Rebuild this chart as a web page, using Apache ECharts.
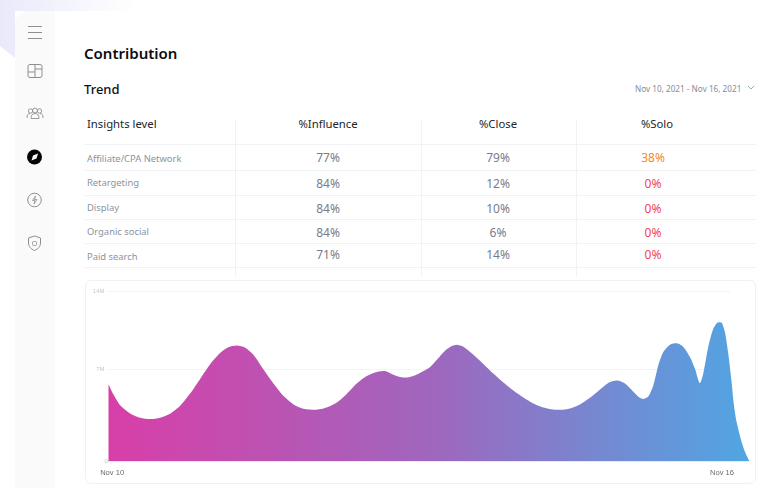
<!DOCTYPE html>
<html>
<head>
<meta charset="utf-8">
<script src="https://cdn.jsdelivr.net/npm/echarts@6/dist/echarts.min.js"></script>
<style>
html, body { margin: 0; padding: 0; width: 780px; height: 488px; overflow: hidden; background: #fff; font-family: "Noto Sans", sans-serif; }
.abs { position: absolute; white-space: nowrap; }
#bg { position: absolute; left: 0; top: 0; width: 780px; height: 488px; }
#sidebar { position: absolute; left: 15px; top: 11px; width: 40px; height: 477px; background: #fafafa; border-top-left-radius: 14px; }
#main { position: absolute; left: 55px; top: 11px; width: 725px; height: 477px; background: #fff; }
#icons { position: absolute; left: 0; top: 0; }
#title { left: 84px; top: 42px; font-size: 15px; line-height: 22px; font-weight: 600; color: #0c0c10; }
#subtitle { left: 84px; top: 79px; font-size: 13px; line-height: 20px; font-weight: 500; color: #111; }
#range { left: 635px; top: 82px; font-size: 8.2px; line-height: 13px; color: #858d9a; }
.rule { position: absolute; background: #f1f2f4; }
.head { font-size: 11.3px; line-height: 16px; color: #22252b; transform: translateX(-50%); }
.rowname { left: 87px; font-size: 9.4px; line-height: 13px; color: #8b93a0; }
.cell { font-size: 12px; line-height: 16px; color: #767d8c; transform: translateX(-50%); }
#card { position: absolute; left: 85px; top: 280px; width: 669px; height: 202px; border: 1px solid #f0f1f3; border-radius: 6px; }
#chart { position: absolute; left: 85px; top: 280px; width: 670px; height: 203px; }
</style>
</head>
<body>
<svg id="bg" width="780" height="488">
    <defs>
        <linearGradient id="lav" x1="0" y1="0" x2="1" y2="0">
            <stop offset="0" stop-color="#e9e9fb"/>
            <stop offset="1" stop-color="#ffffff"/>
        </linearGradient>
    </defs>
    <polygon points="0,0 135,0 135,11 15,11 15,58 0,46" fill="url(#lav)"/>
</svg>
<div id="sidebar"></div>
<div id="main"></div>
<svg id="icons" width="60" height="270" fill="none" stroke="#8f8f8f" stroke-width="1">
    <path d="M28 26.5h14M28 32.5h14M28 38.5h14"/>
    <rect x="28" y="64.5" width="14" height="13" rx="2"/>
    <path d="M35 64.5v13M28 72h7M35 69h7"/>
    <g stroke-width="0.9">
        <circle cx="30.5" cy="111" r="2.2"/><circle cx="35" cy="110.5" r="2.4"/><circle cx="39.5" cy="111" r="2.2"/>
        <path d="M27 118c0-3 1-4.5 3-4.5M43 118c0-3-1-4.5-3-4.5M31 118.5c0-3.5 1.500-5 4-5s4 1.500 4 5z"/>
    </g>
    <circle cx="34.500" cy="157" r="7.500" fill="#060606" stroke="none"/>
    <path d="M38 153.500l-5 2-1.500 5 5-2z" fill="#fff" stroke="none"/>
    <circle cx="34.500" cy="200" r="6.800"/>
    <path d="M35.500 196l-3 4.500h2.500l-1 3.500 3-4.500h-2.500z" stroke-width="0.8"/>
    <path d="M34.500 236l6 2v5c0 3.500-2.500 6-6 7.500-3.500-1.500-6-4-6-7.500v-5z"/>
    <rect x="32.500" y="241.500" width="4" height="4" rx="1" stroke-width="0.8"/>
</svg>
<div id="title" class="abs">Contribution</div>
<div id="subtitle" class="abs">Trend</div>
<div id="range" class="abs">Nov 10, 2021 - Nov 16, 2021</div>
<svg class="abs" style="left:747px;top:85px" width="8" height="6" fill="none" stroke="#8b93a0" stroke-width="0.8"><path d="M1 1l3 3 3-3"/></svg>
<div id="table"></div>
<div id="card"></div>
<div id="chart"></div>
<script>
var tableColumns = ['%Influence', '%Close', '%Solo'];
var tableRows = ['Affiliate/CPA Network', 'Retargeting', 'Display', 'Organic social', 'Paid search'];
var influenceValues = [77, 84, 84, 84, 71];
var closeValues = [79, 12, 10, 6, 14];
var soloValues = [38, 0, 0, 0, 0];

// days since Nov 10
var trendDays = [
    -0.036, 0.013, 0.079, 0.177, 0.275, 0.374, 0.472, 0.570, 0.669, 0.767, 0.866, 0.964,
    1.062, 1.144, 1.226, 1.308, 1.390, 1.488, 1.587, 1.685, 1.784, 1.882, 1.997, 2.111,
    2.210, 2.308, 2.406, 2.505, 2.603, 2.685, 2.751, 2.833, 2.898, 2.997, 3.128, 3.193,
    3.275, 3.341, 3.390, 3.456, 3.554, 3.652, 3.751, 3.849, 3.948, 4.046, 4.144, 4.243,
    4.341, 4.406, 4.505, 4.603, 4.701, 4.800, 4.882, 4.964, 5.046, 5.128, 5.193, 5.226,
    5.275, 5.325, 5.374, 5.423, 5.489, 5.554, 5.620, 5.685, 5.734, 5.783, 5.816, 5.865,
    5.915, 5.964, 5.997, 6.029, 6.062, 6.095, 6.118, 6.144, 6.193, 6.226, 6.269
];
var trendValues = [
    6.34, 5.49, 4.60, 3.93, 3.57, 3.46, 3.57, 3.90, 4.56, 5.57, 6.78, 7.99,
    8.92, 9.39, 9.53, 9.36, 8.78, 7.58, 6.40, 5.38, 4.67, 4.31, 4.23, 4.42,
    4.83, 5.54, 6.40, 7.03, 7.36, 7.44, 7.19, 6.94, 6.89, 7.14, 7.77, 8.34,
    9.11, 9.50, 9.61, 9.44, 8.78, 8.02, 7.22, 6.48, 5.82, 5.24, 4.75, 4.42,
    4.25, 4.23, 4.34, 4.67, 5.22, 5.90, 6.45, 6.64, 6.40, 5.73, 5.22, 5.13,
    5.33, 6.26, 7.91, 9.00, 9.61, 9.72, 9.42, 8.59, 7.63, 6.42, 7.22, 9.42,
    10.93, 11.47, 11.42, 10.65, 8.87, 6.53, 4.61, 3.24, 1.59, 0.77, 0
];
// the 7M line of the source does not sit halfway up, so it is placed where it was drawn
var yTickValues = [0, 7.55, 14];
var yTickLabels = ['0', '7M', '14M'];
var xTickValues = [0, 6];
var xTickLabels = ['Nov 10', 'Nov 16'];

var HEAD_X = [328, 498, 657];
var COLUMN_X = [328, 498, 653];
var ROW_LINES = [144, 170, 195, 219, 243, 267];
var NAME_Y = [152, 176, 201, 225, 250];
var VALUE_Y = [150, 176, 201, 225, 247];
var SOLO_ORANGE = '#f58a1f';
var SOLO_RED = '#ef4358';

function addNode(parent, className, text, css) {
    var node = document.createElement('div');
    node.className = className;
    node.textContent = text;
    node.style.cssText = css;
    parent.appendChild(node);
}

function renderTable() {
    var table = document.getElementById('table');
    [235, 421, 576].forEach(function(x) {
        addNode(table, 'rule', '', 'left:' + x + 'px;top:120px;width:1px;height:156px');
    });
    ROW_LINES.forEach(function(y) {
        addNode(table, 'rule', '', 'left:85px;top:' + y + 'px;width:671px;height:1px');
    });
    addNode(table, 'abs', 'Insights level', 'left:87px;top:116px;font-size:11.3px;line-height:16px;color:#22252b');
    tableColumns.forEach(function(name, idx) {
        addNode(table, 'abs head', name, 'left:' + HEAD_X[idx] + 'px;top:116px');
    });
    tableRows.forEach(function(name, idx) {
        addNode(table, 'abs rowname', name, 'top:' + NAME_Y[idx] + 'px');
        addNode(table, 'abs cell', influenceValues[idx] + '%', 'left:' + COLUMN_X[0] + 'px;top:' + VALUE_Y[idx] + 'px');
        addNode(table, 'abs cell', closeValues[idx] + '%', 'left:' + COLUMN_X[1] + 'px;top:' + VALUE_Y[idx] + 'px');
        var soloColor = soloValues[idx] > 0 ? SOLO_ORANGE : SOLO_RED;
        addNode(table, 'abs cell', soloValues[idx] + '%', 'left:' + COLUMN_X[2] + 'px;top:' + VALUE_Y[idx] + 'px;color:' + soloColor);
    });
}

function getGridLines() {
    var lines = [];
    yTickValues.slice(1).forEach(function(value) {
        lines.push([{coord: [trendDays[0], value]}, {coord: [6.08, value]}]);
    });
    return lines;
}

function renderChart() {
    var chart = echarts.init(document.getElementById('chart'));
    chart.setOption({
        animation: false,
        grid: {left: 23.5, right: 5.7, top: 11.5, bottom: 22},
        xAxis: {
            type: 'value',
            min: trendDays[0],
            max: trendDays[trendDays.length - 1],
            splitLine: {show: false},
            axisTick: {show: false},
            axisLine: {lineStyle: {color: '#ece8f2', width: 1}},
            axisLabel: {
                customValues: xTickValues,
                color: '#666b73',
                fontSize: 7.6,
                margin: 8,
                formatter: function(value) {
                    return xTickLabels[xTickValues.indexOf(value)];
                }
            }
        },
        yAxis: {
            type: 'value',
            min: 0,
            max: 14,
            splitLine: {show: false},
            axisTick: {show: false},
            axisLine: {show: false},
            axisLabel: {
                customValues: yTickValues,
                color: '#c6c6c8',
                fontSize: 6,
                margin: 4,
                padding: [4, 0, 0, 0],
                alignMinLabel: 'bottom',
                formatter: function(value) {
                    return yTickLabels[yTickValues.indexOf(value)];
                }
            }
        },
        series: [{
            type: 'line',
            z: 2,
            data: trendDays.map(function(day, idx) {
                return [day, trendValues[idx]];
            }),
            smooth: 0.25,
            symbol: 'none',
            lineStyle: {width: 0},
            areaStyle: {
                opacity: 1,
                color: new echarts.graphic.LinearGradient(0, 0, 1, 0, [
                    {offset: 0, color: '#d83fa8'},
                    {offset: 0.5, color: '#a066bd'},
                    {offset: 1, color: '#50a6e3'}
                ])
            },
            markLine: {
                silent: true,
                z: 1,
                symbol: 'none',
                label: {show: false},
                lineStyle: {color: '#f3f3f5', width: 1, type: 'solid'},
                data: getGridLines()
            }
        }]
    });
}

renderTable();
renderChart();
</script>
</body>
</html>
